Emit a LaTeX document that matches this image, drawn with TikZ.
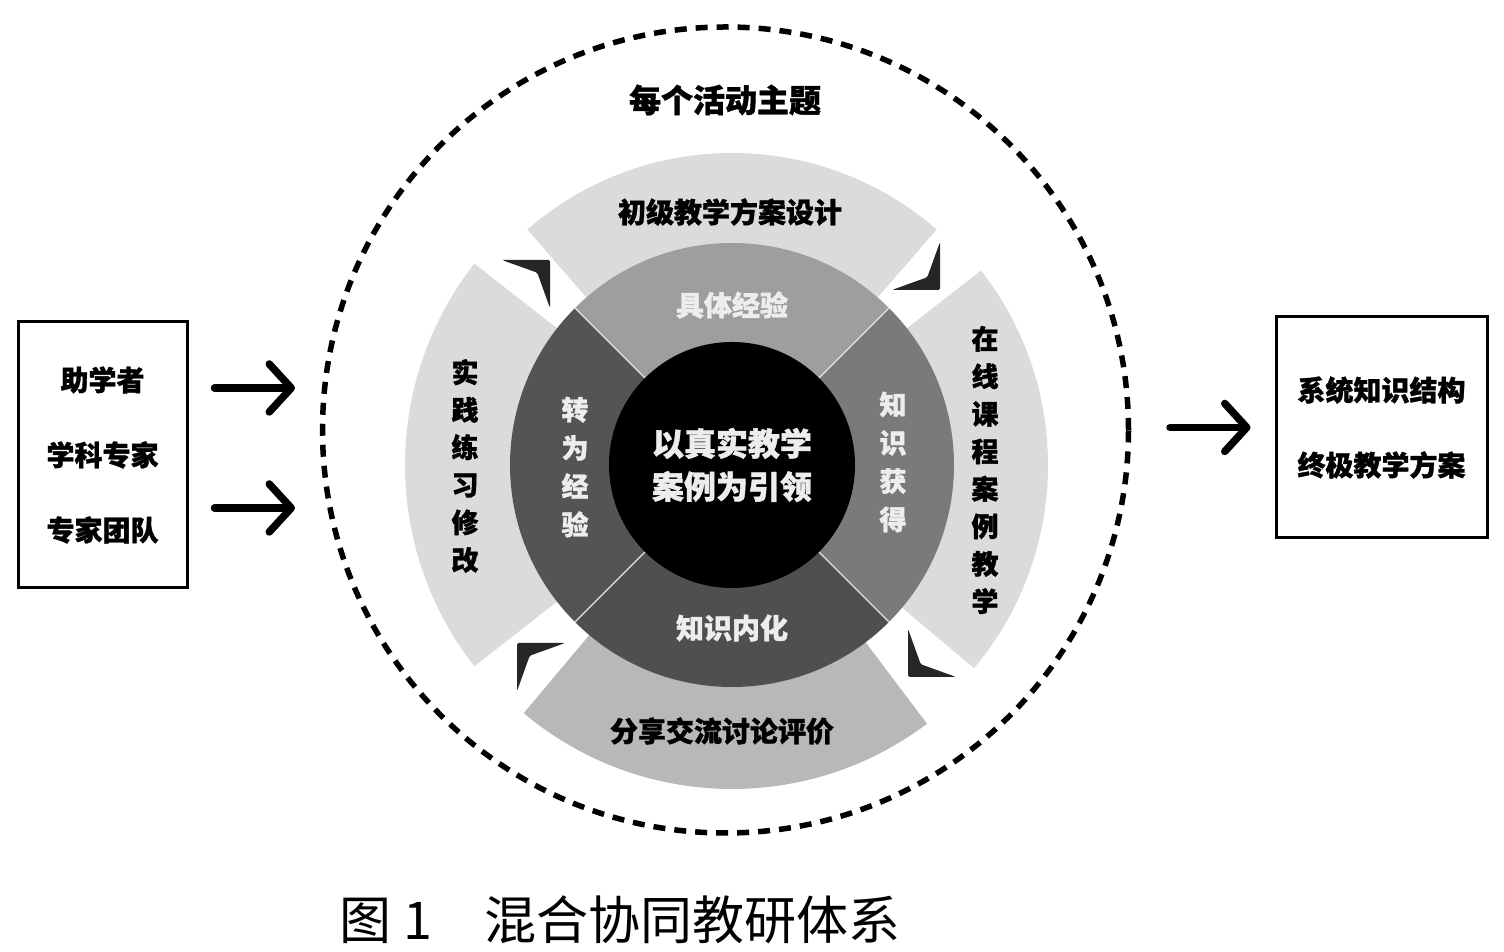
\documentclass[tikz,border=0pt]{standalone}
\usepackage{fontspec}
\newfontfamily\cjk{Noto Sans CJK SC}[BoldFeatures={FakeBold=1.2}]
\usepackage{tikz}
\usetikzlibrary{positioning, calc}
\usetikzlibrary{arrows.meta}

\definecolor{outL}{gray}{0.86}
\definecolor{outD}{gray}{0.72}
\definecolor{midA}{gray}{0.62}
\definecolor{midB}{gray}{0.48}
\definecolor{midC}{gray}{0.31}
\definecolor{midD}{gray}{0.33}

\tikzset{
  dashring/.style={line width=5.5pt, dash pattern=on 12pt off 9pt},
  sidebox/.style={draw, line width=3pt, align=center, inner sep=0pt,
    font=\cjk\bfseries\fontsize{28}{75}\selectfont},
  bigarr/.style={line width=7.5pt, line cap=round,
    -{Straight Barb[length=22pt,width=48pt,round]}},
  chev/.style={fill=black!85, rounded corners=1.5pt},
  darktxt/.style={font=\cjk\bfseries\fontsize{28}{34}\selectfont, text=black},
  lighttxt/.style={font=\cjk\bfseries\fontsize{28}{34}\selectfont, text=white!93!black},
  vdark/.style={align=center, text=black, font=\cjk\bfseries\fontsize{27}{37.5}\selectfont},
  vlight/.style={align=center, text=white!93!black, font=\cjk\bfseries\fontsize{27}{38.3}\selectfont}
}

\begin{document}
\begin{tikzpicture}[x=1pt,y=1pt]
\useasboundingbox (0,0) rectangle (1504,952);
\coordinate (C) at (732,487);

% outer ring
\draw[dashring] (725.5,522) circle[radius=403];
\node[darktxt, font=\cjk\bfseries\fontsize{32}{38}\selectfont] (theme) at (725,852) {每个活动主题};

% outer sectors
\foreach \a/\b/\r/\c in {49/131/312/outL, 142/218/327/outL, 230/307/324/outD, -40/38/316/outL}{
  \fill[\c, shift={(C)}] (\a:215) arc[start angle=\a, end angle=\b, radius=215]
    -- (\b:\r) arc[start angle=\b, end angle=\a, radius=\r] -- cycle;
}

% middle ring
\foreach \a/\b/\c in {45/135/midA, -45/45/midB, 225/315/midC, 135/225/midD}{
  \fill[\c, shift={(C)}] (\a:120) arc[start angle=\a, end angle=\b, radius=120]
    -- (\b:222) arc[start angle=\b, end angle=\a, radius=222] -- cycle;
}
\foreach \a in {45,135,225,315}
  \draw[white!80!gray, line width=1.2pt, shift={(C)}] (\a:123) -- (\a:222);

% hub
\node[circle, fill=black, minimum size=246pt, inner sep=0pt, align=center,
  text=white!93!black, font=\cjk\bfseries\fontsize{32}{43}\selectfont] (hub) at (C) {以真实教学\\案例为引领};

% turning marks
\foreach \p/\t in {{(550,692)}/45, {(940,662)}/-45, {(908,275)}/-135, {(517,309)}/135}
  \fill[chev, shift={\p}, rotate=\t] (0,0) -- (-34,34) -- (-18,0) -- (-34,-34) -- cycle;

% ring labels
\node[darktxt] (design) at (730,740) {初级教学方案设计};
\node[darktxt] (share) at (722,221) {分享交流讨论评价};
\node[vdark] (online) at (985,482) {在\\线\\课\\程\\案\\例\\教\\学};
\node[vdark] (practice) at (465,486) {实\\践\\练\\习\\修\\改};
\node[lighttxt] (concrete) at (732,647) {具体经验};
\node[lighttxt] (internal) at (732,324) {知识内化};
\node[vlight] (gain) at (893,490) {知\\识\\获\\得};
\node[vlight] (turn) at (575,485) {转\\为\\经\\验};

% side boxes
\node[sidebox, minimum width=169pt, minimum height=266pt] (who) at (102.5,497) {助学者\\学科专家\\专家团队};
\node[sidebox, minimum width=211pt, minimum height=221pt] (result) at (1381.5,524.5) {系统知识结构\\终极教学方案};

\coordinate (in1) at (295,564);
\coordinate (in2) at (295,444);
\coordinate (out) at (1170,524.5);
\draw[bigarr] ($(who.east)+(26,67)$) -- (in1);
\draw[bigarr] ($(who.east)+(26,-53)$) -- (in2);
\draw[bigarr] (out) -- ([xshift=-24pt]result.west);

% caption
\node[font=\cjk\fontsize{52}{60}\selectfont] (cap) at (620,32) {图 1　混合协同教研体系};
\end{tikzpicture}
\end{document}
